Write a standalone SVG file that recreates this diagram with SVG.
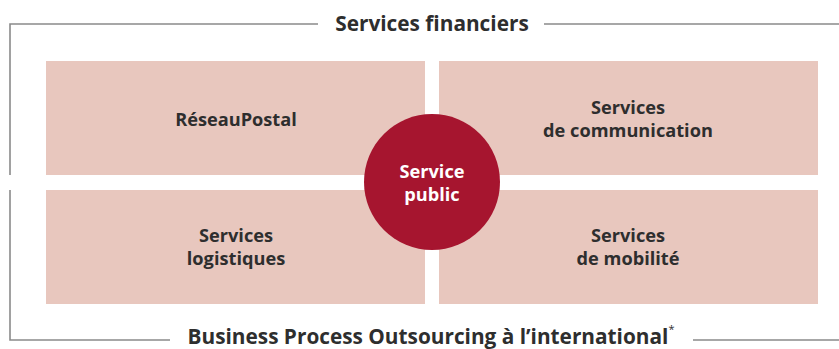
<svg xmlns="http://www.w3.org/2000/svg" width="839" height="349" viewBox="0 0 839 349">
  <style>
    .frame { fill: none; stroke: #8a8a8a; stroke-width: 1.6; }
    .box { fill: #e8c7be; }
    .label { font-family: "Open Sans", "Noto Sans", sans-serif; font-weight: bold; font-size: 18.2px; fill: #2e2e2e; text-anchor: middle; }
    .title { font-family: "Open Sans", "Noto Sans", sans-serif; font-weight: bold; font-size: 20.8px; fill: #2e2e2e; text-anchor: middle; }
    .core { fill: #a6152f; }
    .core-label { font-family: "Open Sans", "Noto Sans", sans-serif; font-weight: bold; font-size: 18.2px; fill: #ffffff; text-anchor: middle; }
  </style>

  <!-- outer bracket frame -->
  <g id="connectors">
    <polyline class="frame" points="318,24 10,24 10,175"/>
    <line class="frame" x1="544" y1="24" x2="839" y2="24"/>
    <polyline class="frame" points="10,190 10,340 170,340"/>
    <line class="frame" x1="693" y1="340" x2="839" y2="340"/>
  </g>

  <g id="financial-services">
    <text class="title" x="432" y="31">Services financiers</text>
  </g>

  <g id="reseau-postal">
    <rect class="box" x="46" y="61" width="379" height="114"/>
    <text class="label" x="236" y="126">RéseauPostal</text>
  </g>

  <g id="communication-services">
    <rect class="box" x="439" y="61" width="379" height="114"/>
    <text class="label" x="628" y="114">Services</text>
    <text class="label" x="628" y="137">de communication</text>
  </g>

  <g id="logistics-services">
    <rect class="box" x="46" y="190" width="379" height="114"/>
    <text class="label" x="236" y="242">Services</text>
    <text class="label" x="236" y="265">logistiques</text>
  </g>

  <g id="mobility-services">
    <rect class="box" x="439" y="190" width="379" height="114"/>
    <text class="label" x="628" y="242">Services</text>
    <text class="label" x="628" y="265">de mobilité</text>
  </g>

  <g id="public-service">
    <circle class="core" cx="432" cy="182" r="68"/>
    <text class="core-label" x="432" y="178">Service</text>
    <text class="core-label" x="432" y="201">public</text>
  </g>

  <g id="bpo-international">
    <text class="title" x="431" y="344">Business Process Outsourcing à l’international<tspan font-size="11" dy="-11" font-weight="normal">*</tspan></text>
  </g>
</svg>
